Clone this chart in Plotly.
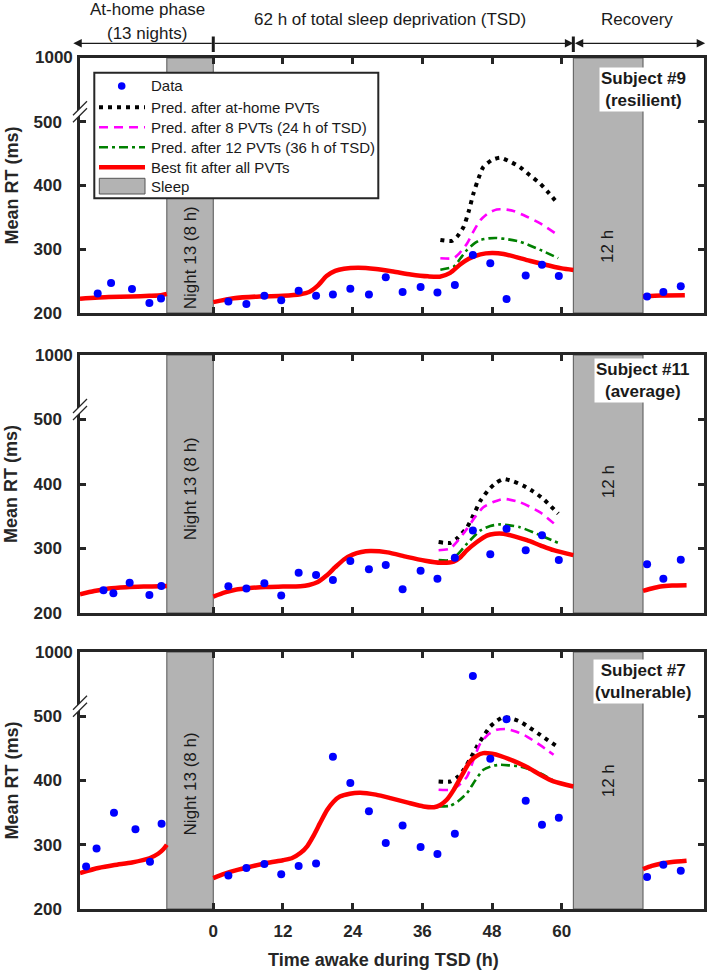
import plotly.graph_objects as go

# ------------------------------------------------------------------ data
x_ticks = [0, 12, 24, 36, 48, 60]
y_ticks = [200, 300, 400, 500]
y_top_label = 1000
sleep_bands = [(-8, 0, "Night 13 (8 h)"), (62, 74, "12 h")]
subject_labels = ["Subject #9<br>(resilient)", "Subject #11<br>(average)",
                  "Subject #7<br>(vulnerable)"]
legend_names = ["Data", "Pred. after at-home PVTs", "Pred. after 8 PVTs (24 h of TSD)",
                "Pred. after 12 PVTs (36 h of TSD)", "Best fit after all PVTs", "Sleep"]

# PVT times during TSD and recovery (h)
tsd_x = [2.6, 5.7, 8.8, 11.7, 14.7, 17.7, 20.6, 23.6, 26.8, 29.7,
         32.6, 35.7, 38.6, 41.6, 44.7, 47.7, 50.5, 53.8, 56.6, 59.5]
rec_x = [74.7, 77.5, 80.5]

# ---- Subject #9 (resilient)
s9_home_x = [-19.9, -17.6, -14.0, -11.0, -9.0]
s9_home_y = [230.6, 247, 237.5, 215.6, 222.8]
s9_tsd_y = [218, 214, 227, 220, 235, 227, 229, 238, 229, 256,
            233, 240.6, 232, 244, 291, 278, 222, 259, 275.5, 258]
s9_rec_y = [226, 233, 242]
s9_fit_home_x = [-22.95, -18, -14, -11, -9, -8]
s9_fit_home_y = [222.5, 225, 226, 227, 228, 230]
s9_fit_tsd_x = [0, 3.5, 8, 12, 15, 16.5, 18, 19.5, 21, 22.5, 25, 28, 31, 34, 37, 39,
                40.8, 42.5, 44, 46, 48, 50, 54, 57, 60, 62]
s9_fit_tsd_y = [217, 223, 226, 227, 229.5, 233, 243, 258, 266, 269.5, 271, 269, 265,
                260.5, 257.5, 257, 263, 276, 285, 292, 294, 292.5, 283, 276, 270, 267.5]
s9_fit_rec_x = [74, 76, 78, 81.2]
s9_fit_rec_y = [226, 227, 227.5, 228]
s9_home_pred_x = [39.1, 41.1, 42, 43.1, 44, 44.8, 45.7, 46.5, 48, 49.4, 51, 52.8,
                  54.5, 56.3, 57.8, 59.2]
s9_home_pred_y = [314.5, 313, 320, 335, 360, 387.5, 412, 429, 440, 443.7, 438, 429,
                  416, 403, 388, 373]
s9_p8_x = [39.1, 41.4, 42.5, 43.7, 44.8, 46, 47.4, 48.8, 50.2, 51.7, 54, 56.3, 59.4]
s9_p8_y = [286, 286, 295, 309, 328, 345.8, 357, 362.5, 362.5, 360, 351, 340.6, 322]
s9_p12_x = [39.1, 41.4, 42.5, 43.7, 44.8, 46, 47.4, 48.8, 50.8, 52.8, 54.5, 56.3, 59.4]
s9_p12_y = [267.7, 272.8, 285, 299, 308, 314.5, 317, 317.6, 315.5, 312, 306, 299, 286]

# ---- Subject #11 (average)
s11_home_x = [-18.9, -17.2, -14.4, -11.0, -8.95]
s11_home_y = [235.4, 230.8, 247, 228, 242]
s11_tsd_y = [241.5, 237.9, 246, 227, 262.5, 259, 251, 280.5, 267.7, 274.3,
             237, 265.5, 253, 285.5, 328, 291, 330.8, 297.4, 320.5, 282]
s11_rec_y = [275.4, 253, 282.5]
s11_fit_home_x = [-22.95, -20.5, -18, -15, -12, -9, -8]
s11_fit_home_y = [229, 234, 238, 240, 241, 241.5, 242]
s11_fit_tsd_x = [0, 2, 4, 6, 9, 12, 15, 16.5, 18, 19.5, 21, 22.5, 24, 25.5, 27, 30, 33.3,
                 36.5, 39.1, 41.4, 42.5, 43.7, 45.4, 47.1, 48.5, 50, 52, 54, 56.3, 58.6, 62]
s11_fit_tsd_y = [225.5, 232, 236.5, 238.5, 240.5, 241, 241.5, 243.5, 248, 258, 271, 283,
                 290.5, 294.5, 296, 294, 287, 281, 277.8, 279.5, 286, 297.4, 310, 320, 323,
                 323, 318.5, 312.8, 305, 297.4, 289.7]
s11_fit_rec_x = [74, 75.5, 77, 79, 81.5]
s11_fit_rec_y = [234.3, 238, 241, 242.5, 243]
s11_home_pred_x = [38.8, 40.8, 42, 43.7, 44.8, 46, 47.4, 48.8, 50, 51.7, 53.4, 55, 56.8, 59.4]
s11_home_pred_y = [310, 308.6, 316, 333, 352, 374, 391, 402.5, 407.7, 404, 397.4, 389, 377, 354]
s11_p8_x = [38.8, 40.8, 42.2, 43.7, 45.1, 46.5, 48.2, 50, 52.8, 56.3, 59.4]
s11_p8_y = [297.4, 300, 313, 330.8, 349, 364, 372, 377, 371.7, 356, 333]
s11_p12_x = [38.8, 40.8, 42.2, 43.7, 46, 47.7, 49.4, 52.8, 56.3, 59.4]
s11_p12_y = [282, 282, 292, 307.7, 328, 335, 337.4, 333, 320.5, 308.6]

# ---- Subject #7 (vulnerable)
s7_home_x = [-21.9, -20.1, -17.1, -13.4, -10.9, -8.9]
s7_home_y = [266, 294, 350, 324, 273.6, 332.7]
s7_tsd_y = [252, 264, 270, 254, 267, 271, 437, 396, 352, 302.6,
            330, 296.4, 285.5, 317, 814, 433.7, 495.5, 368.5, 331, 342]
s7_rec_y = [250, 269, 259.5]
s7_fit_home_x = [-22.95, -19.8, -17, -14, -11, -9.5, -8.6, -8]
s7_fit_home_y = [256, 263.8, 268.5, 272.5, 279, 286, 293, 300]
s7_fit_tsd_x = [0, 2, 4, 6, 9.2, 12, 13.5, 15, 16.2, 17.2, 18.4, 19.6, 20.7, 21.8, 23.5,
                25.3, 28, 30.5, 33.5, 36.2, 38, 39.1, 40.2, 41.4, 42.8, 44.2, 45.3, 46.5,
                48, 49.4, 51.7, 54, 56.3, 58.6, 62]
s7_fit_tsd_y = [248, 255, 260.5, 265, 271.5, 276, 279, 287, 298, 313, 334, 354, 367, 375,
                379.5, 381, 378, 372.6, 365.5, 359.6, 358.5, 362, 370, 385.5, 408, 429.5,
                438, 442.6, 441.5, 438.4, 430.5, 421, 409, 398.5, 390.7]
s7_fit_rec_x = [74, 75.5, 77, 79, 81.5]
s7_fit_rec_y = [262, 267, 270.5, 273, 275]
s7_home_pred_x = [38.8, 40.8, 42, 43.1, 44.2, 45.4, 46.6, 47.7, 49, 50, 51.4, 52.8, 54.5,
                  56.3, 59.2]
s7_home_pred_y = [398.5, 398.5, 405, 416.6, 433, 453, 470, 484, 494, 498.6, 496.5, 491.8,
                  482, 471, 453]
s7_p8_x = [38.8, 40.8, 42.2, 43.7, 44.8, 46, 47.4, 48.8, 50.5, 52.2, 54, 56.3, 58.6]
s7_p8_y = [385.5, 385.5, 392, 406, 432, 458, 472, 478.8, 480, 476, 468.4, 455, 440]
s7_p12_x = [38.8, 40.8, 42.2, 43.7, 45.1, 46.5, 48, 49.4, 51, 52.8, 56.3, 59.2]
s7_p12_y = [359.6, 360.7, 368, 380.4, 400, 416.6, 422.5, 424.4, 423.5, 421.8, 411.5, 396]

panels = [
    dict(home_x=s9_home_x, home_y=s9_home_y, tsd_y=s9_tsd_y, rec_y=s9_rec_y,
         fit=[(s9_fit_home_x, s9_fit_home_y), (s9_fit_tsd_x, s9_fit_tsd_y),
              (s9_fit_rec_x, s9_fit_rec_y)],
         preds=[(s9_home_pred_x, s9_home_pred_y), (s9_p8_x, s9_p8_y), (s9_p12_x, s9_p12_y)]),
    dict(home_x=s11_home_x, home_y=s11_home_y, tsd_y=s11_tsd_y, rec_y=s11_rec_y,
         fit=[(s11_fit_home_x, s11_fit_home_y), (s11_fit_tsd_x, s11_fit_tsd_y),
              (s11_fit_rec_x, s11_fit_rec_y)],
         preds=[(s11_home_pred_x, s11_home_pred_y), (s11_p8_x, s11_p8_y),
                (s11_p12_x, s11_p12_y)]),
    dict(home_x=s7_home_x, home_y=s7_home_y, tsd_y=s7_tsd_y, rec_y=s7_rec_y,
         fit=[(s7_fit_home_x, s7_fit_home_y), (s7_fit_tsd_x, s7_fit_tsd_y),
              (s7_fit_rec_x, s7_fit_rec_y)],
         preds=[(s7_home_pred_x, s7_home_pred_y), (s7_p8_x, s7_p8_y), (s7_p12_x, s7_p12_y)]),
]

# ------------------------------------------------------------------ styling
FONT = "Arial, Liberation Sans, Helvetica, sans-serif"
AXC = "#262626"
W, H = 709, 974
ML, MR, MT, MB = 80, 5, 0, 65
PW, PH = W - ML - MR, H - MT - MB
X_RANGE = [-22.95, 84.5]
Y_RANGE = [200, 600]
panel_px = [(58, 313), (355, 613), (652, 909)]  # top, bottom (pixels)
band_text_y = [[286, 304], [392, 403], [394, 399]]
subject_y = [0.878, 0.903, 0.887]
pred_styles = [dict(color="#000000", width=4, dash="4px,5px"),
               dict(color="#ff00ff", width=2.6, dash="9px,6px"),
               dict(color="#008000", width=2.6, dash="9px,4px,3px,4px")]
fit_style = dict(color="#ff0000", width=4.5)


def brk(v):
    """Broken y-axis: 200-500 linear, 500-1000 compressed 5x."""
    return v if v <= 500 else 500 + (v - 500) / 5.0


def br(vals):
    return [brk(v) for v in vals]


def px_x(p):
    return (p - ML) / PW


def px_y(p):
    return (H - MB - p) / PH


fig = go.Figure()
shapes, annos = [], []

for i, pdata in enumerate(panels):
    sfx = "" if i == 0 else str(i + 1)
    xa, ya = "x" + sfx, "y" + sfx
    # predictions
    for (px_, py_), st in zip(pdata["preds"], pred_styles):
        fig.add_trace(go.Scatter(x=px_, y=br(py_), mode="lines", xaxis=xa, yaxis=ya,
                                 line=dict(shape="spline", smoothing=0.6, **st),
                                 showlegend=False, hoverinfo="skip"))
    # best fit
    for fx, fy in pdata["fit"]:
        fig.add_trace(go.Scatter(x=fx, y=br(fy), mode="lines", xaxis=xa, yaxis=ya,
                                 line=dict(shape="spline", smoothing=0.6, **fit_style),
                                 showlegend=False, hoverinfo="skip"))
    # data
    xs = pdata["home_x"] + tsd_x + rec_x
    ys = pdata["home_y"] + pdata["tsd_y"] + pdata["rec_y"]
    fig.add_trace(go.Scatter(x=xs, y=br(ys), mode="markers", xaxis=xa, yaxis=ya,
                             marker=dict(color="#0000ff", size=8, line=dict(width=0)),
                             showlegend=False, name="Data"))

    # sleep bands
    for j, (b0, b1, lab) in enumerate(sleep_bands):
        shapes.append(dict(type="rect", xref=xa, yref=ya + " domain", x0=b0, x1=b1, y0=0,
                           y1=1, fillcolor="#b3b3b3", line=dict(color="#555555", width=1),
                           layer="below"))
        annos.append(dict(xref=xa, yref=ya, x=(b0 + b1) / 2, y=band_text_y[i][j], text=lab,
                          textangle=-90, showarrow=False, yanchor="middle",
                          font=dict(family=FONT, size=17, color="#1a1a1a")))

    # subject label
    annos.append(dict(xref=xa, yref=ya + " domain", x=74.0, y=subject_y[i],
                      xanchor="center", yanchor="middle",
                      text="<b>" + subject_labels[i].replace("<br>", "</b><br><b>") + "</b>",
                      showarrow=False, bgcolor="#ffffff", borderpad=1,
                      font=dict(family=FONT, size=17, color="#1a1a1a")))

    top, bot = panel_px[i]
    # "1000" top label
    annos.append(dict(xref="paper", yref="paper", x=px_x(33), y=px_y(top), xanchor="left",
                      yanchor="middle", text="<b>%d</b>" % y_top_label, showarrow=False,
                      font=dict(family=FONT, size=17, color=AXC)))
    # y title
    annos.append(dict(xref="paper", yref="paper", x=px_x(11), y=px_y((top + bot) / 2),
                      text="<b>Mean RT (ms)</b>", textangle=-90, showarrow=False,
                      xanchor="center", yanchor="middle",
                      font=dict(family=FONT, size=18, color=AXC)))
    # axis break marks
    y500 = bot - (500 - 200) / 400 * (bot - top)
    yc = y500 - 10
    d, s = 3.5, 7
    quad = "M {} {} L {} {} L {} {} L {} {} Z".format(
        px_x(80 - s), px_y(yc + s + d), px_x(80 + s), px_y(yc - s + d),
        px_x(80 + s), px_y(yc - s - d), px_x(80 - s), px_y(yc + s - d))
    shapes.append(dict(type="path", xref="paper", yref="paper", path=quad,
                       fillcolor="#ffffff", line=dict(width=0), layer="above"))
    for off in (d, -d):
        shapes.append(dict(type="line", xref="paper", yref="paper",
                           x0=px_x(80 - s), y0=px_y(yc + s + off),
                           x1=px_x(80 + s), y1=px_y(yc - s + off),
                           line=dict(color=AXC, width=1.3), layer="above"))

    dom = [px_y(bot), px_y(top)]
    xaxis = dict(range=X_RANGE, domain=[0, 1], anchor=ya, tickvals=x_ticks,
                 ticks="inside", ticklen=6, tickwidth=2.5, tickcolor=AXC,
                 showline=True, linewidth=2.5, linecolor=AXC, mirror="ticks",
                 showgrid=False, zeroline=False, showticklabels=(i == 2),
                 ticklabelstandoff=5,
                 tickfont=dict(family=FONT, size=17, color=AXC, weight="bold"))
    yaxis = dict(range=Y_RANGE, domain=dom, anchor=xa, tickvals=y_ticks,
                 ticktext=[str(v) for v in y_ticks],
                 ticks="inside", ticklen=6, tickwidth=2.5, tickcolor=AXC,
                 showline=True, linewidth=2.5, linecolor=AXC, mirror="ticks",
                 showgrid=False, zeroline=False, ticklabelstandoff=12,
                 tickfont=dict(family=FONT, size=17, color=AXC, weight="bold"))
    fig.update_layout(**{"xaxis" + sfx: xaxis, "yaxis" + sfx: yaxis})

# x title
annos.append(dict(xref="paper", yref="paper", x=0.487, y=px_y(960), showarrow=False,
                  text="<b>Time awake during TSD (h)</b>", yanchor="middle",
                  font=dict(family=FONT, size=18, color=AXC)))

# ---- manual legend in panel 1
leg_rows = [86, 107.3, 127.3, 147.3, 167.3, 186.7]
shapes.append(dict(type="rect", xref="paper", yref="paper", x0=px_x(94.3), x1=px_x(378.3),
                   y0=px_y(198.3), y1=px_y(72.7), fillcolor="#ffffff",
                   line=dict(color=AXC, width=2), layer="above"))
shapes.append(dict(type="circle", xref="paper", yref="paper", xsizemode="pixel",
                   ysizemode="pixel", xanchor=px_x(121.7), yanchor=px_y(leg_rows[0]),
                   x0=-3.8, x1=3.8, y0=-3.8, y1=3.8, fillcolor="#0000ff",
                   line=dict(width=0), layer="above"))
for r, st in zip(leg_rows[1:4], pred_styles):
    shapes.append(dict(type="line", xref="paper", yref="paper", x0=px_x(99), x1=px_x(145),
                       y0=px_y(r), y1=px_y(r),
                       line=dict(color=st["color"], width=st["width"], dash=st["dash"]),
                       layer="above"))
shapes.append(dict(type="line", xref="paper", yref="paper", x0=px_x(99), x1=px_x(145),
                   y0=px_y(leg_rows[4]), y1=px_y(leg_rows[4]),
                   line=dict(color=fit_style["color"], width=fit_style["width"]),
                   layer="above"))
shapes.append(dict(type="rect", xref="paper", yref="paper", x0=px_x(99.3), x1=px_x(145),
                   y0=px_y(194), y1=px_y(178.3), fillcolor="#b3b3b3",
                   line=dict(color="#555555", width=1), layer="above"))
for r, name in zip(leg_rows, legend_names):
    annos.append(dict(xref="paper", yref="paper", x=px_x(148.7), y=px_y(r), xanchor="left",
                      yanchor="middle", text=name, showarrow=False,
                      font=dict(family=FONT, size=15, color="#1a1a1a")))

# ---- phase header (arrows, text) aligned to TSD time axis
y_arrow = px_y(43.3)
ARC = "#1a1a1a"
annos.append(dict(xref="x", yref="paper", x=-24.1, y=y_arrow, axref="x", ax=0,
                  ayref="pixel", ay=0, text="", showarrow=True, arrowhead=2, arrowsize=1.3,
                  arrowwidth=1.3, arrowcolor=ARC))
annos.append(dict(xref="x", yref="paper", x=62, y=y_arrow, axref="x", ax=0,
                  ayref="pixel", ay=0, text="", showarrow=True, arrowhead=2, arrowsize=1.3,
                  arrowwidth=1.3, arrowcolor=ARC))
annos.append(dict(xref="x", yref="paper", x=84.7, y=y_arrow, axref="x", ax=62,
                  ayref="pixel", ay=0, text="", showarrow=True, arrowhead=2,
                  startarrowhead=2, arrowside="end+start", arrowsize=1.3, startarrowsize=1.3,
                  arrowwidth=1.3, arrowcolor=ARC))
for xv in (0, 62):
    shapes.append(dict(type="line", xref="x", yref="paper", x0=xv, x1=xv, y0=px_y(52),
                       y1=px_y(36.5), line=dict(color=ARC, width=3), layer="above"))
hdr_font = dict(family=FONT, size=17, color="#1a1a1a")
annos.append(dict(xref="x", yref="paper", x=-11.4, y=px_y(9.5), text="At-home phase",
                  showarrow=False, font=hdr_font, yanchor="middle"))
annos.append(dict(xref="x", yref="paper", x=-11.4, y=px_y(33.3), text="(13 nights)",
                  showarrow=False, font=hdr_font, yanchor="middle"))
annos.append(dict(xref="x", yref="paper", x=30.5, y=px_y(20),
                  text="62 h of total sleep deprivation (TSD)", showarrow=False,
                  font=hdr_font, yanchor="middle"))
annos.append(dict(xref="x", yref="paper", x=73, y=px_y(20), text="Recovery",
                  showarrow=False, font=hdr_font, yanchor="middle"))

fig.update_layout(width=W, height=H, margin=dict(l=ML, r=MR, t=MT, b=MB),
                  plot_bgcolor="#ffffff", paper_bgcolor="#ffffff",
                  shapes=shapes, annotations=annos, showlegend=False,
                  font=dict(family=FONT, color=AXC))

fig.write_html("out.html", config={"displayModeBar": False},
               post_script="document.body.style.margin='0';"
                           "document.body.style.overflow='hidden';")
